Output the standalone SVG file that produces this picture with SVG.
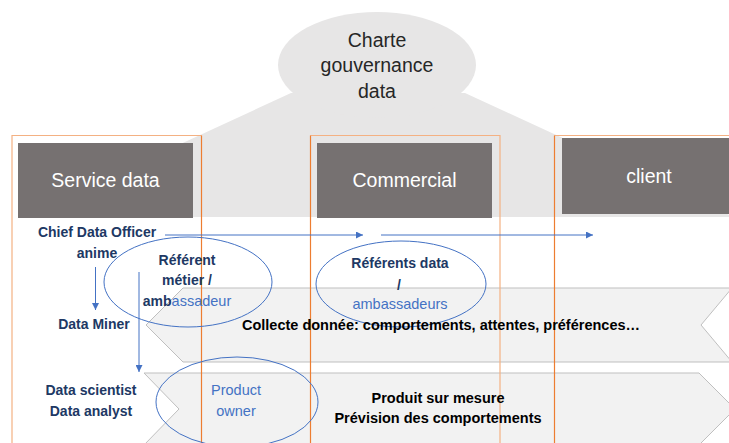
<svg xmlns="http://www.w3.org/2000/svg" width="729" height="443" viewBox="0 0 729 443">
  <defs>
    <marker id="arrow" viewBox="0 0 10 10" refX="10" refY="5" markerWidth="7" markerHeight="7" markerUnits="userSpaceOnUse" orient="auto">
      <path d="M0,0 L10,5 L0,10 z" fill="#4472C4"/>
    </marker>
    <style>
      .head { fill: #767171; }
      .head-txt { font-family: "Liberation Sans", Arial, sans-serif; font-size: 19.5px; fill: #ffffff; text-anchor: middle; }
      .title { font-family: "Liberation Sans", Arial, sans-serif; font-size: 19.5px; fill: #262626; text-anchor: middle; }
      .frame { fill: none; stroke: #F4B183; stroke-width: 1.2; }
      .frame-dark { stroke: #ED7D31; stroke-width: 1.2; }
      .band { fill: #F2F2F2; stroke: #BFBFBF; stroke-width: 1; }
      .oval { fill: none; stroke: #4472C4; stroke-width: 1; }
      .role { font-family: "Liberation Sans", Arial, sans-serif; font-size: 14px; font-weight: bold; fill: #203864; text-anchor: middle; }
      .soft { font-family: "Liberation Sans", Arial, sans-serif; font-size: 14.5px; font-weight: normal; fill: #4472C4; }
      .task { font-family: "Liberation Sans", Arial, sans-serif; font-size: 14.5px; font-weight: bold; fill: #000000; text-anchor: middle; }
      .link { fill: none; stroke: #4472C4; stroke-width: 1; }
    </style>
  </defs>

  <!-- background: charter bubble spreading over the three columns -->
  <g id="charte">
    <path d="M291,93 L22,217 L734,217 L465,93 z" fill="#E7E6E6"/>
    <ellipse cx="377" cy="65" rx="99" ry="53" fill="#E7E6E6"/>
    <text class="title" x="377" y="47">Charte</text>
    <text class="title" x="377" y="72">gouvernance</text>
    <text class="title" x="377" y="98">data</text>
  </g>

  <!-- column headers -->
  <g id="service-data">
    <rect class="head" x="18" y="143" width="175" height="75"/>
    <text class="head-txt" x="105.5" y="187">Service data</text>
  </g>
  <g id="commercial">
    <rect class="head" x="317" y="143" width="175" height="75"/>
    <text class="head-txt" x="404.5" y="187">Commercial</text>
  </g>
  <g id="client">
    <rect class="head" x="562" y="138" width="170" height="76"/>
    <text class="head-txt" x="649" y="183">client</text>
  </g>

  <!-- process bands -->
  <g id="band-collecte">
    <path class="band" d="M183,288 L732,288 L701,325 L732,362 L183,362 L146,325 z"/>
  </g>
  <g id="band-produit">
    <path class="band" d="M144,373 L699,373 L735,409 L699,445 L144,445 L179,409 z"/>
  </g>

  <!-- column frames -->
  <g id="frames">
    <path class="frame" d="M12,443 L12,135.5 L201.5,135.5"/>
    <path class="frame frame-dark" d="M201.5,135.5 L201.5,443"/>
    <path class="frame" d="M310.5,135.5 L500,135.5 L500,443"/>
    <path class="frame frame-dark" d="M310.5,135.5 L310.5,443"/>
    <path class="frame" d="M554.5,135.5 L729,135.5"/>
    <path class="frame frame-dark" d="M554.5,135.5 L554.5,443"/>
  </g>

  <!-- connectors -->
  <g id="connectors">
    <line class="link" x1="165" y1="235" x2="363" y2="235" marker-end="url(#arrow)"/>
    <line class="link" x1="381" y1="235" x2="593" y2="235" marker-end="url(#arrow)"/>
    <line class="link" x1="95.5" y1="267" x2="95.5" y2="310" marker-end="url(#arrow)"/>
    <line class="link" x1="139" y1="272" x2="139" y2="372" stroke="#9DB4E0" marker-end="url(#arrow)"/>
  </g>

  <!-- roles -->
  <g id="chief-data-officer">
    <text class="role" x="97" y="237">Chief Data Officer</text>
    <text class="role" x="97" y="258">anime</text>
  </g>
  <g id="data-miner">
    <text class="role" x="94" y="329">Data Miner</text>
  </g>
  <g id="data-scientist">
    <text class="role" x="91" y="395">Data scientist</text>
    <text class="role" x="91" y="416">Data analyst</text>
  </g>

  <g id="referent-metier">
    <ellipse class="oval" cx="188" cy="282" rx="84" ry="45"/>
    <text class="role" x="187" y="265">Référent</text>
    <text class="role" x="187" y="285">métier /</text>
    <text class="role" x="187" y="306">amb<tspan class="soft" font-size="14px">assadeur</tspan></text>
  </g>

  <g id="referents-data">
    <ellipse class="oval" cx="401" cy="284" rx="85" ry="43"/>
    <text class="role" x="400" y="268">Référents data</text>
    <text class="role" x="399" y="290">/</text>
    <text class="soft" x="400" y="309" text-anchor="middle">ambassadeurs</text>
  </g>

  <g id="product-owner">
    <ellipse class="oval" cx="237" cy="402" rx="81" ry="45"/>
    <text class="soft" x="236" y="395" text-anchor="middle" font-size="15px">Product</text>
    <text class="soft" x="236" y="416" text-anchor="middle" font-size="15px">owner</text>
  </g>

  <!-- band labels -->
  <g id="collecte-label">
    <text class="task" x="441" y="330">Collecte donnée: comportements, attentes, préférences…</text>
  </g>
  <g id="produit-label">
    <text class="task" x="438" y="403">Produit sur mesure</text>
    <text class="task" x="438" y="423">Prévision des comportements</text>
  </g>
</svg>
